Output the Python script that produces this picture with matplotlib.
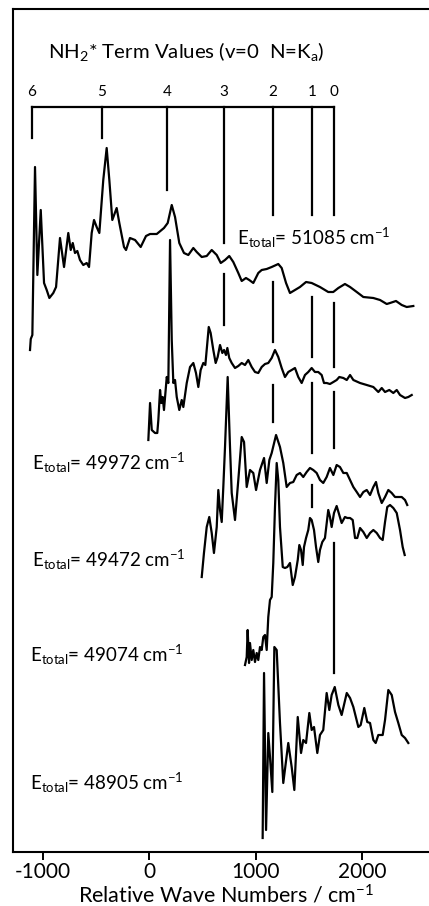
import matplotlib
matplotlib.use("Agg")
import matplotlib.pyplot as plt

plt.rcParams['font.family'] = ['Lato', 'DejaVu Sans']
plt.rcParams['mathtext.fontset'] = 'custom'
plt.rcParams['mathtext.rm'] = 'Lato'
plt.rcParams['mathtext.it'] = 'Lato'

# Photofragment spectra, stacked with vertical offsets (arbitrary units)
wn_51085 = [-1122, -1115, -1100, -1075, -1053, -1021, -990, -965, -940, -903, -877, -840, -802, -762,
            -739, -720, -699, -677, -652, -621, -589, -567, -542, -520, -495, -470, -433, -401, -376,
            -348, -307, -282, -238, -219, -182, -134, -81, -31, 7, 70, 138, 173, 211, 242, 282, 326,
            367, 414, 446, 493, 540, 587, 634, 672, 712, 752, 790, 837, 869, 909, 940, 978, 1025,
            1057, 1104, 1151, 1213, 1245, 1286, 1323, 1370, 1417, 1474, 1527, 1605, 1683, 1730,
            1778, 1840, 1888, 1951, 2013, 2107, 2170, 2233, 2264, 2320, 2374, 2421, 2483]
int_51085 = [502, 513, 517, 685, 577, 642, 569, 562, 554, 559, 565, 614, 585, 619, 602, 609, 599, 601,
             592, 587, 589, 585, 619, 632, 625, 619, 672, 704, 672, 632, 644, 629, 605, 602, 614, 612,
             605, 616, 618, 618, 624, 629, 647, 635, 609, 599, 597, 604, 600, 595, 596, 602, 597, 589,
             592, 596, 590, 579, 571, 574, 572, 569, 579, 582, 583, 585, 588, 584, 569, 559, 562, 565,
             570, 569, 565, 560, 560, 564, 568, 565, 560, 555, 554, 552, 548, 549, 551, 547, 545, 546]

wn_49972 = [-9, 7, 23, 54, 75, 85, 101, 113, 126, 138, 164, 179, 195, 211, 226, 242, 258, 282, 305,
            320, 352, 383, 414, 439, 461, 483, 508, 527, 559, 577, 602, 624, 643, 665, 687, 703, 721,
            734, 752, 775, 806, 837, 869, 900, 931, 963, 994, 1025, 1057, 1088, 1119, 1151, 1182,
            1213, 1245, 1276, 1307, 1339, 1370, 1401, 1433, 1464, 1495, 1527, 1558, 1589, 1621, 1643,
            1668, 1699, 1731, 1762, 1787, 1825, 1857, 1888, 1919, 1982, 2045, 2107, 2154, 2186, 2217,
            2257, 2295, 2327, 2358, 2405, 2436, 2468]
int_49972 = [412, 449, 422, 419, 419, 432, 462, 449, 455, 442, 475, 469, 612, 512, 469, 472, 455, 442,
             452, 445, 469, 485, 489, 479, 465, 482, 489, 487, 525, 519, 502, 489, 495, 507, 499, 502,
             497, 504, 494, 489, 484, 486, 489, 487, 492, 485, 480, 479, 485, 488, 489, 494, 502, 495,
             484, 475, 480, 482, 484, 475, 469, 477, 480, 484, 480, 480, 477, 469, 469, 468, 470, 472,
             475, 474, 472, 477, 472, 469, 467, 465, 460, 464, 460, 462, 459, 462, 457, 454, 455, 457]

wn_49472 = [493, 514, 540, 564, 587, 608, 634, 649, 665, 681, 696, 712, 737, 759, 775, 806, 837, 869,
            891, 916, 947, 978, 1004, 1041, 1079, 1104, 1129, 1151, 1192, 1229, 1260, 1292, 1323,
            1354, 1386, 1417, 1448, 1480, 1511, 1542, 1574, 1605, 1636, 1668, 1699, 1731, 1762,
            1793, 1825, 1857, 1888, 1919, 1951, 1982, 2013, 2045, 2076, 2107, 2132, 2154, 2186,
            2217, 2248, 2280, 2311, 2342, 2374, 2405, 2426]
int_49472 = [275, 299, 325, 335, 319, 299, 325, 362, 342, 330, 365, 405, 475, 405, 359, 332, 372, 415,
             410, 365, 382, 379, 362, 382, 394, 369, 392, 399, 417, 405, 389, 365, 369, 370, 377, 379,
             375, 380, 384, 382, 379, 372, 369, 375, 384, 377, 387, 385, 379, 379, 372, 365, 360, 355,
             360, 362, 357, 365, 370, 359, 349, 355, 362, 359, 355, 355, 355, 352, 347]

wn_49074 = [900, 916, 925, 938, 947, 963, 978, 994, 1010, 1025, 1041, 1057, 1072, 1088, 1104, 1119,
            1135, 1151, 1166, 1182, 1198, 1213, 1229, 1255, 1276, 1298, 1323, 1349, 1370, 1396, 1411,
            1427, 1443, 1455, 1474, 1495, 1511, 1527, 1549, 1568, 1589, 1605, 1627, 1652, 1683, 1699,
            1715, 1737, 1762, 1787, 1809, 1840, 1862, 1888, 1913, 1935, 1956, 1982, 2013, 2045, 2076,
            2107, 2139, 2170, 2195, 2217, 2238, 2264, 2295, 2327, 2358, 2383, 2402]
int_49074 = [187, 195, 222, 189, 209, 192, 202, 190, 199, 192, 205, 202, 215, 217, 202, 235, 252, 255,
             289, 345, 389, 372, 325, 285, 284, 285, 289, 267, 275, 292, 307, 302, 287, 305, 314, 322,
             334, 332, 322, 305, 290, 302, 310, 314, 342, 335, 325, 339, 346, 337, 329, 335, 334, 334,
             332, 314, 314, 324, 320, 314, 319, 322, 319, 314, 312, 330, 345, 347, 344, 339, 322, 305,
             297]

wn_48905 = [1066, 1079, 1098, 1119, 1135, 1157, 1176, 1198, 1229, 1260, 1307, 1339, 1364, 1396, 1427,
            1448, 1474, 1505, 1527, 1549, 1580, 1605, 1636, 1668, 1693, 1715, 1744, 1778, 1809, 1857,
            1888, 1919, 1966, 1988, 2022, 2050, 2076, 2107, 2129, 2154, 2195, 2217, 2248, 2280, 2311,
            2342, 2374, 2405, 2436]
int_48905 = [14, 179, 22, 119, 95, 60, 205, 202, 129, 69, 109, 85, 62, 135, 99, 112, 109, 139, 122, 125,
             99, 117, 122, 159, 142, 157, 165, 147, 137, 159, 154, 145, 125, 127, 144, 130, 129, 112,
             109, 117, 117, 132, 162, 157, 140, 129, 117, 114, 109]

spectra = [
    (wn_51085, int_51085),
    (wn_49972, int_49972),
    (wn_49472, int_49472),
    (wn_49074, int_49074),
    (wn_48905, int_48905),
]

energy_labels = ['51085', '49972', '49472', '49074', '48905']
label_pos = [(827, 607), (-1103, 382), (-1103, 285), (-1122, 190), (-1122, 62)]

# NH2* (v=0, N=Ka) term values relative to the excitation origin
term_ka = ['6', '5', '4', '3', '2', '1', '0']
term_wn = [-1103, -445, 166, 703, 1164, 1531, 1738]
# visible pieces of each term-value marker line (between the traces)
term_segments = [
    [(745, 714)],
    [(745, 714)],
    [(745, 662)],
    [(745, 609), (578, 527)],
    [(745, 637), (570, 510), (467, 430)],
    [(745, 637), (555, 495), (469, 399), (367, 345)],
    [(745, 637), (549, 485), (460, 404), (309, 179)],
]
bracket_y = 745

fig = plt.figure(figsize=(4.29, 9.06), dpi=100)
ax = fig.add_axes([13 / 429, 54 / 906, 427 / 429, 843 / 906])
ax.set_xlim(-1282, 2734)
ax.set_ylim(0, 843)

lw = 1.6
for wn, inten in spectra:
    ax.plot(wn, inten, color='black', lw=lw, solid_joinstyle='round')

ax.plot([term_wn[0], term_wn[-1]], [bracket_y, bracket_y], color='black', lw=lw)
for x, segs, lab in zip(term_wn, term_segments, term_ka):
    for y0, y1 in segs:
        ax.plot([x, x], [y0, y1], color='black', lw=lw)
    ax.text(x, 756, lab, ha='center', va='baseline', fontsize=11)

ax.text(-953, 794, r'NH$_{2}$* Term Values (v=0  N=K$_{\mathrm{a}}$)', ha='left', va='baseline',
        fontsize=14.7)

for e, (x, y) in zip(energy_labels, label_pos):
    ax.text(x, y, r'E$_{\mathrm{total}}$= ' + e + r' cm$^{-1}$', ha='left', va='baseline',
            fontsize=13.5)

ax.set_xticks([-1000, 0, 1000, 2000])
ax.set_xticklabels(['-1000', '0', '1000', '2000'])
ax.set_yticks([])
ax.tick_params(axis='x', direction='out', length=6, width=1.4, labelsize=15, pad=1)
ax.set_xlabel(r'Relative Wave Numbers / cm$^{-1}$', fontsize=15.5, labelpad=1.5)
ax.spines['right'].set_visible(False)
for s in ['left', 'top', 'bottom']:
    ax.spines[s].set_linewidth(1.5)

fig.savefig('out.png', dpi=100)
